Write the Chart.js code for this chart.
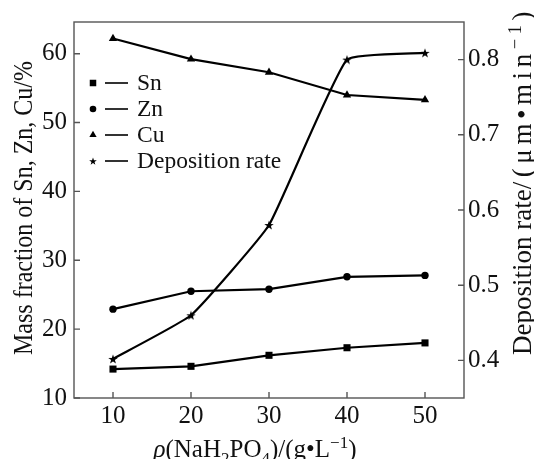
<!DOCTYPE html>
<html>
<head>
<meta charset="utf-8">
<script src="https://cdn.jsdelivr.net/npm/chart.js@4.4.1/dist/chart.umd.min.js"></script>
<style>
  html, body { margin: 0; padding: 0; background: #fff; }
</style>
</head>
<body>
<canvas id="chart" width="534" height="459"></canvas>
<script>
// NaH2PO4 concentration, g/L
const concentration = [10, 20, 30, 40, 50]
// mass fractions, %
const snValues = [14.2, 14.6, 16.2, 17.3, 18.0]
const znValues = [22.9, 25.5, 25.8, 27.6, 27.8]
const cuValues = [62.2, 59.2, 57.3, 54.0, 53.3]
// deposition rate, um/min
const depositionRate = [0.402, 0.46, 0.58, 0.80, 0.809]

const xTicks = [10, 20, 30, 40, 50]
const leftTicks = [10, 20, 30, 40, 50, 60]
const rightTicks = [0.4, 0.5, 0.6, 0.7, 0.8]

const FONT = 'Liberation Serif'
const INK = '#111'
const AXIS = '#555'

function makeStar(size) {
    const c = document.createElement('canvas')
    c.width = size
    c.height = size
    const g = c.getContext('2d')
    g.fillStyle = '#000'
    g.beginPath()
    for (let i = 0; i < 10; i++) {
        const r = i % 2 ? size * 0.2 : size * 0.5
        const a = -Math.PI / 2 + i * Math.PI / 5
        const px = size / 2 + r * Math.cos(a)
        const py = size / 2 + 0.5 + r * Math.sin(a)
        if (i === 0) g.moveTo(px, py)
        else g.lineTo(px, py)
    }
    g.closePath()
    g.fill()
    return c
}
const star = makeStar(10)
const legendStar = makeStar(8)

function toPoints(ys) {
    return concentration.map((x, i) => ({ x: x, y: ys[i] }))
}

function seriesStyle(label, data, pointStyle, radius, axis) {
    return {
        label: label,
        data: data,
        yAxisID: axis,
        borderColor: '#000',
        backgroundColor: '#000',
        borderWidth: 2.2,
        pointStyle: pointStyle,
        pointRadius: radius,
        pointHoverRadius: radius,
        pointBorderWidth: 0,
        tension: 0
    }
}

const datasets = [
    seriesStyle('Sn', toPoints(snValues), 'rect', 5, 'y'),
    seriesStyle('Zn', toPoints(znValues), 'circle', 3.7, 'y'),
    seriesStyle('Cu', toPoints(cuValues), 'triangle', 4.8, 'y'),
    seriesStyle('Deposition rate', toPoints(depositionRate), star, 5, 'y1')
]
datasets[3].tension = 0.12
const legendMarks = [['rect', 4.6], ['circle', 3.3], ['triangle', 4.2], [legendStar, 4]]

function pieceFont(p, size) {
    const s = p.sub || p.sup ? size * 0.68 : size
    return (p.italic ? 'italic ' : '') + s + 'px "' + FONT + '"'
}
// draws text pieces char by char, with optional extra spacing between chars
function drawPieces(ctx, pieces, size, gap) {
    let x = 0
    pieces.forEach(p => {
        ctx.font = pieceFont(p, size)
        const dy = p.sub ? size * 0.28 : (p.sup ? -size * 0.38 : 0)
        for (const ch of p.t) {
            ctx.fillText(ch, x, dy)
            x += ctx.measureText(ch).width + (gap || 0)
        }
    })
    return x
}
function piecesWidth(ctx, pieces, size) {
    let w = 0
    pieces.forEach(p => {
        ctx.font = pieceFont(p, size)
        for (const ch of p.t) w += ctx.measureText(ch).width
    })
    return w
}

const decorations = {
    id: 'decorations',
    afterDraw(chart) {
        const ctx = chart.ctx
        const area = chart.chartArea
        const sx = chart.scales.x
        const yl = chart.scales.y
        const yr = chart.scales.y1
        ctx.save()

        // frame and inward ticks
        ctx.strokeStyle = AXIS
        ctx.lineWidth = 1.4
        ctx.strokeRect(area.left, area.top, area.right - area.left, area.bottom - area.top)
        ctx.beginPath()
        sx.ticks.forEach(t => {
            const px = sx.getPixelForValue(t.value)
            ctx.moveTo(px, area.bottom)
            ctx.lineTo(px, area.bottom - 6)
        })
        yl.ticks.forEach(t => {
            const py = yl.getPixelForValue(t.value)
            ctx.moveTo(area.left, py)
            ctx.lineTo(area.left + 6, py)
        })
        yr.ticks.forEach(t => {
            const py = yr.getPixelForValue(t.value)
            ctx.moveTo(area.right, py)
            ctx.lineTo(area.right - 6, py)
        })
        ctx.stroke()

        // legend
        ctx.font = '23.5px "' + FONT + '"'
        ctx.textBaseline = 'middle'
        chart.data.datasets.forEach((ds, i) => {
            const y = area.top + 61 + i * 26
            const mx = area.left + 19
            ctx.fillStyle = '#000'
            Chart.helpers.drawPoint(ctx, {
                pointStyle: legendMarks[i][0],
                radius: legendMarks[i][1],
                borderWidth: 0
            }, mx, y)
            ctx.strokeStyle = '#000'
            ctx.lineWidth = 1.6
            ctx.beginPath()
            ctx.moveTo(area.left + 31, y)
            ctx.lineTo(area.left + 54, y)
            ctx.stroke()
            ctx.fillStyle = INK
            ctx.fillText(ds.label, area.left + 63, y + 1)
        })

        // axis titles
        ctx.textBaseline = 'alphabetic'
        ctx.fillStyle = INK
        ctx.font = '24px "' + FONT + '"'
        ctx.save()
        ctx.translate(32, 208)
        ctx.rotate(-Math.PI / 2)
        ctx.scale(1, 1.15)
        ctx.textAlign = 'center'
        ctx.fillText('Mass fraction of Sn, Zn, Cu/%', 0, 0)
        ctx.restore()

        // right title: plain part, then the unit spread out up to the top edge
        ctx.save()
        ctx.textAlign = 'left'
        ctx.translate(531, 355)
        ctx.rotate(-Math.PI / 2)
        ctx.font = '27px "' + FONT + '"'
        ctx.fillText('Deposition rate', 0, 0)
        const start = ctx.measureText('Deposition rate').width
        const unit = [{ t: '/(μm•min' }, { t: '−1', sup: true }, { t: ')' }]
        const natural = piecesWidth(ctx, unit, 27)
        const chars = unit.reduce((n, p) => n + p.t.length, 0)
        const gap = Math.max(0, (348 - start - natural) / chars)
        ctx.translate(start, 0)
        drawPieces(ctx, unit, 27, gap)
        ctx.restore()

        const xTitle = [
            { t: 'ρ', italic: true }, { t: '(NaH' }, { t: '2', sub: true }, { t: 'PO' },
            { t: '4', sub: true }, { t: ')/(g•L' }, { t: '−1', sup: true }, { t: ')' }
        ]
        ctx.save()
        ctx.textAlign = 'left'
        const w = piecesWidth(ctx, xTitle, 25)
        ctx.translate(255 - w / 2, 457)
        drawPieces(ctx, xTitle, 25)
        ctx.restore()

        ctx.restore()
    }
}

const tickFont = { family: FONT, size: 25 }

new Chart(document.getElementById('chart'), {
    type: 'line',
    data: { datasets: datasets },
    options: {
        responsive: false,
        animation: false,
        devicePixelRatio: 1,
        layout: { padding: { top: 15, left: 0, right: 0, bottom: 0 } },
        plugins: {
            legend: { display: false },
            tooltip: { enabled: false }
        },
        scales: {
            x: {
                type: 'linear',
                min: 5,
                max: 55,
                grid: { display: false, drawTicks: false },
                border: { display: false },
                ticks: { font: tickFont, color: INK, padding: 3, maxRotation: 0 },
                afterBuildTicks: s => { s.ticks = xTicks.map(v => ({ value: v })) },
                afterFit: s => { s.height = 61 }
            },
            y: {
                position: 'left',
                min: 10,
                max: 64.6,
                grid: { display: false, drawTicks: false },
                border: { display: false },
                ticks: { font: tickFont, color: INK, padding: 7 },
                afterBuildTicks: s => { s.ticks = leftTicks.map(v => ({ value: v })) },
                afterFit: s => { s.width = 74 }
            },
            y1: {
                position: 'right',
                min: 0.35,
                max: 0.85,
                grid: { display: false, drawTicks: false },
                border: { display: false },
                ticks: { font: tickFont, color: INK, padding: 4, callback: v => v.toFixed(1) },
                afterBuildTicks: s => { s.ticks = rightTicks.map(v => ({ value: v })) },
                afterFit: s => { s.width = 70 }
            }
        }
    },
    plugins: [decorations]
})
</script>
</body>
</html>
